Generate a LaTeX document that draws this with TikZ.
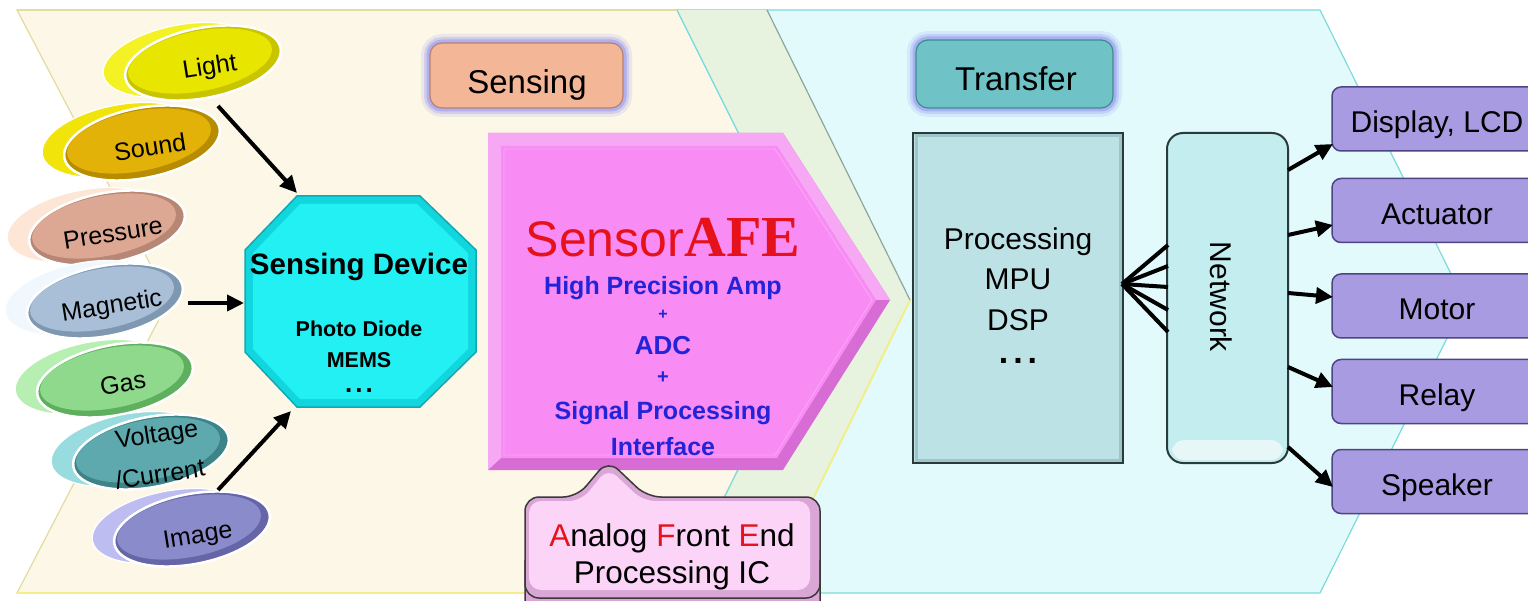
\documentclass[tikz,border=0pt]{standalone}
\usepackage{fontspec}
\setmainfont{Liberation Sans}
\newfontfamily\afeserif{Liberation Serif}
\usetikzlibrary{arrows.meta,shapes.geometric,calc}
\definecolor{cream}{HTML}{FCF7E6}
\definecolor{creamedge}{HTML}{E2DCA0}
\definecolor{cyanbg}{HTML}{E2FAFC}
\definecolor{cyanedge}{HTML}{7FDADA}
\definecolor{overlapc}{HTML}{E7F3DF}
\definecolor{grayline}{HTML}{8FA59A}
\definecolor{yellowline}{HTML}{F2EE8A}
\definecolor{glow}{HTML}{8A8AF2}
\definecolor{sensingfill}{HTML}{F3B697}
\definecolor{sensingedge}{HTML}{B88270}
\definecolor{transferfill}{HTML}{6FC3C6}
\definecolor{transferedge}{HTML}{3F8C8F}
\definecolor{afedark}{HTML}{D66CD4}
\definecolor{afelight}{HTML}{F7A8F4}
\definecolor{afefill}{HTML}{F98CF4}
\definecolor{afered}{HTML}{E5121B}
\definecolor{afeblue}{HTML}{2323D8}
\definecolor{callfill}{HTML}{FBD4F7}
\definecolor{callshade}{HTML}{D9A6D6}
\definecolor{calledge}{HTML}{3A3A3A}
\definecolor{sdouter}{HTML}{12D6DE}
\definecolor{sdinner}{HTML}{22F0F2}
\definecolor{sdedge}{HTML}{13A9B0}
\definecolor{procfill}{HTML}{BDE2E5}
\definecolor{procin}{HTML}{9CC6C9}
\definecolor{procedge}{HTML}{2A3A3A}
\definecolor{netfill}{HTML}{C4EDEF}
\definecolor{outfill}{HTML}{A99BE1}
\definecolor{outedge}{HTML}{4E4483}
% ellipse colours
\definecolor{lightB}{HTML}{F4F224}\definecolor{lightR}{HTML}{C9C400}\definecolor{lightF}{HTML}{E8E500}
\definecolor{soundB}{HTML}{F1E40A}\definecolor{soundR}{HTML}{B88C00}\definecolor{soundF}{HTML}{E3B208}
\definecolor{presB}{HTML}{FDE6D6}\definecolor{presR}{HTML}{B88674}\definecolor{presF}{HTML}{DDA893}
\definecolor{magB}{HTML}{F0F8FE}\definecolor{magR}{HTML}{7F98B2}\definecolor{magF}{HTML}{A9BFD7}
\definecolor{gasB}{HTML}{B7EFB2}\definecolor{gasR}{HTML}{5EAF5E}\definecolor{gasF}{HTML}{8FD98D}
\definecolor{voltB}{HTML}{98DCDF}\definecolor{voltR}{HTML}{3C8488}\definecolor{voltF}{HTML}{5EA9AE}
\definecolor{imgB}{HTML}{BDBDF2}\definecolor{imgR}{HTML}{6565A8}\definecolor{imgF}{HTML}{8A8BCB}
\newcommand\fsz[1]{\fontsize{#1}{#1}\selectfont}
\newcommand\sensorpair[6]{%
  \node[ellb, fill=#4] (#1b) at (#2-22,#3-3) {};
  \node[ellf, fill=#5] (#1) at (#2,#3) {};
  \node[elli, fill=#6] (#1i) at (#2-3,#3-2) {};
}
\tikzset{
  ellb/.style={ellipse, minimum width=158pt, minimum height=70pt, inner sep=0pt, rotate=11, draw=white, line width=1.2pt},
  ellf/.style={ellipse, minimum width=158pt, minimum height=70pt, inner sep=0pt, rotate=11, draw=white, line width=2.5pt},
  elli/.style={ellipse, minimum width=146pt, minimum height=60pt, inner sep=0pt, rotate=11},
  ltxt/.style={font=\fsz{25}, inner sep=0pt, rotate=9},
  arr/.style={line width=4pt, -{Triangle[length=17pt,width=16pt]}},
  fan/.style={line width=4pt},
  outbox/.style={draw=outedge, line width=1.5pt, fill=outfill, rounded corners=9pt, minimum width=210pt, minimum height=64pt, inner sep=0pt},
  outtxt/.style={font=\fsz{30}, anchor=base, inner sep=0pt},
  bluetxt/.style={font=\bfseries\fsz{25}, text=afeblue, anchor=base, inner sep=0pt},
  sdtxt/.style={font=\bfseries\fsz{21.5}, anchor=base, inner sep=0pt},
  proctxt/.style={font=\fsz{30}, anchor=base, inner sep=0pt},
  calltxt/.style={font=\fsz{31.5}, anchor=base, inner sep=0pt},
}
\begin{document}
\begin{tikzpicture}[x=1pt,y=-1pt]
\useasboundingbox (0,0) rectangle (1528,601);
\fill[white] (0,0) rectangle (1528,601);
% ---- background chevrons
\filldraw[fill=cream, draw=creamedge, line width=1.2pt]
  (17,10) -- (767,10) -- (910,300) -- (767,593) -- (17,593) -- (169,300) -- cycle;
\filldraw[fill=cyanbg, draw=cyanedge, line width=1.2pt]
  (677,10) -- (1320,10) -- (1465,302) -- (1320,593) -- (677,593) -- (822,300) -- cycle;
\fill[overlapc] (677,10) -- (767,10) -- (910,300) -- (767,593) -- (677,593) -- (822,300) -- cycle;
\draw[grayline, line width=1.2pt] (767,10) -- (910,300);
\draw[yellowline, line width=2pt] (910,300) -- (767,593);
\draw[cyanedge, line width=1.2pt] (677,10) -- (822,300) -- (677,593);
\draw[creamedge, line width=1.5pt] (17,10) -- (677,10);
\draw[yellowline, line width=2pt] (17,593) -- (677,593);
% ---- Sensing / Transfer headers
\foreach \w/\o in {18/0.15, 12/0.25, 7/0.45}{
  \draw[glow, opacity=\o, line width=\w pt, rounded corners=12pt] (430,43) rectangle (623,108);
  \draw[glow, opacity=\o, line width=\w pt, rounded corners=12pt] (916,40) rectangle (1113,108);
}
\node[draw=sensingedge, line width=1.2pt, fill=sensingfill, rounded corners=12pt,
      minimum width=193pt, minimum height=65pt, inner sep=0pt] (sensing) at (526.5,75.5) {};
\node[font=\fsz{33}, inner sep=0pt, anchor=base] (sensingt) at (527,94) {Sensing};
\node[draw=transferedge, line width=1.2pt, fill=transferfill, rounded corners=12pt,
      minimum width=197pt, minimum height=68pt, inner sep=0pt] (transfer) at (1014.5,74) {};
\node[font=\fsz{33}, inner sep=0pt, anchor=base] (transfert) at (1016,91) {Transfer};
% ---- SensorAFE pentagon
\fill[afedark] (488,133) -- (783,133) -- (890,300) -- (783,470) -- (488,470) -- cycle;
\fill[afelight] (488,133) -- (783,133) -- (890,300) -- (876,300) -- (777,146) -- (501,146) -- (501,458) -- (488,470) -- cycle;
\fill[afefill] (501,146) -- (777,146) -- (876,300) -- (777,458) -- (501,458) -- cycle;
\draw[afelight, line width=0.8pt] (504,149) -- (775,149) -- (872,300) -- (775,455) -- (504,455) -- cycle;
\node[inner sep=0pt, anchor=base, text=afered] (afetitle) at (663,257)
  {{\fsz{50}Sensor}{\afeserif\bfseries\fsz{58}AFE}};
\node[bluetxt] (amp) at (663,295) {High Precision Amp};
\node[bluetxt, font=\bfseries\fsz{16}] (plus1) at (663,320) {+};
\node[bluetxt, font=\bfseries\fsz{26}] (adc) at (663,355) {ADC};
\node[bluetxt, font=\bfseries\fsz{20}] (plus2) at (663,384) {+};
\node[bluetxt] (sigproc) at (663,419) {Signal Processing};
\node[bluetxt] (iface) at (663,455) {Interface};
% ---- callout
\fill[callshade, rounded corners=14pt] (525,612) -- (525,497) -- (577,497) -- (608,460) -- (647,497) -- (820,497) -- (820,612) -- cycle;
\fill[callfill, rounded corners=12pt] (529,590) -- (529,501) -- (581,501) -- (608,468) -- (643,501) -- (810,501) -- (810,590) -- cycle;
\draw[calledge, line width=1.5pt, rounded corners=14pt] (525,612) -- (525,497) -- (577,497) -- (608,460) -- (647,497) -- (820,497) -- (820,612);
\draw[calledge, line width=1.5pt, rounded corners=14pt] (525,560) -- (525,598) -- (820,598) -- (820,560);
\node[calltxt] (callt1) at (672,546) {\textcolor{afered}{A}nalog \textcolor{afered}{F}ront \textcolor{afered}{E}nd};
\node[calltxt] (callt2) at (672,583) {Processing IC};
% ---- Sensing device octagon
\filldraw[fill=sdouter, draw=sdedge, line width=1.5pt]
  (297,196) -- (420,196) -- (476,250) -- (476,352) -- (420,407) -- (297,407) -- (245,352) -- (245,250) -- cycle;
\fill[sdinner] (300,204) -- (417,204) -- (468,253) -- (468,349) -- (417,399) -- (300,399) -- (253,349) -- (253,253) -- cycle;
\node[minimum width=231pt, minimum height=211pt, inner sep=0pt] (sd) at (360.5,301.5) {};
\node[font=\bfseries\fsz{29.5}, anchor=base, inner sep=0pt] (sdt) at (359,275) {Sensing Device};
\node[sdtxt] (sd1) at (359,337) {Photo Diode};
\node[sdtxt] (sd2) at (359,367) {MEMS};
\node[sdtxt, font=\bfseries\fsz{26}] (sd3) at (359,392) {.\hspace{3pt}.\hspace{3pt}.};
% ---- sensor ellipses
\sensorpair{light}{203}{63}{lightB}{lightR}{lightF}
\sensorpair{sound}{142}{143}{soundB}{soundR}{soundF}
\sensorpair{pres}{107}{228}{presB}{presR}{presF}
\sensorpair{mag}{105}{301}{magB}{magR}{magF}
\sensorpair{gas}{115}{380}{gasB}{gasR}{gasF}
\sensorpair{volt}{151}{452}{voltB}{voltR}{voltF}
\sensorpair{img}{192}{529}{imgB}{imgR}{imgF}
\node[ltxt] (lightt) at (210,68) {Light};
\node[ltxt] (soundt) at (150,147) {Sound};
\node[ltxt] (prest) at (113,233) {Pressure};
\node[ltxt] (magt) at (112,307) {Magnetic};
\node[ltxt] (gast) at (123,383) {Gas};
\node[ltxt] (voltt1) at (157,436) {Voltage};
\node[ltxt] (voltt2) at (160,474) {/Current};
\node[ltxt] (imgt) at (198,537) {Image};
% ---- arrows into sensing device
\coordinate (a1s) at (218,106); \coordinate (a1e) at (297,193);
\coordinate (a2s) at (188,303); \coordinate (a2e) at (244,303);
\coordinate (a3s) at (218,490); \coordinate (a3e) at (291,411);
\draw[arr] (a1s) -- (a1e);
\draw[arr] (a2s) -- (a2e);
\draw[arr] (a3s) -- (a3e);
% ---- processing box
\node[draw=procedge, line width=2pt, fill=procfill, minimum width=210pt, minimum height=330pt, inner sep=0pt] (proc) at (1018,298) {};
\draw[procin, line width=3pt] (916,136) rectangle (1120,460);
\node[proctxt] (proct1) at (1018,250) {Processing};
\node[proctxt] (proct2) at (1018,290) {MPU};
\node[proctxt] (proct3) at (1018,331) {DSP};
\node[proctxt, font=\bfseries\fsz{34}] (proct4) at (1018,363) {.\hspace{5pt}.\hspace{5pt}.};
% ---- network
\node[draw=procedge, line width=2pt, fill=netfill, rounded corners=16pt, minimum width=121pt, minimum height=330pt, inner sep=0pt] (net) at (1227.5,298) {};
\fill[white, opacity=0.6, rounded corners=12pt] (1172,440) rectangle (1283,460);
\node[font=\fsz{30}, rotate=-90, inner sep=0pt] (nett) at (1221,297) {Network};
% fan
\coordinate (fo) at (1122,284);
\foreach \yy [count=\i] in {245,266,287,310,332}{
  \coordinate (f\i) at (1168,\yy);
  \draw[fan] (fo) -- (f\i);
}
% ---- outputs
\node[outbox] (disp) at (1437,119) {};
\node[outbox] (act) at (1437,210.5) {};
\node[outbox] (mot) at (1437,306) {};
\node[outbox] (rel) at (1437,391.5) {};
\node[outbox] (spk) at (1437,481.5) {};
\node[outtxt] (dispt) at (1437,133) {Display, LCD};
\node[outtxt] (actt) at (1437,225) {Actuator};
\node[outtxt] (mott) at (1437,320) {Motor};
\node[outtxt] (relt) at (1437,405) {Relay};
\node[outtxt] (spkt) at (1437,495) {Speaker};
\coordinate (n1) at (1288,170); \coordinate (d1) at (1333,144);
\coordinate (n2) at (1288,235); \coordinate (d2) at (1333,225);
\coordinate (n3) at (1288,293); \coordinate (d3) at (1333,297);
\coordinate (n4) at (1288,367); \coordinate (d4) at (1333,387);
\coordinate (n5) at (1288,447); \coordinate (d5) at (1333,487);
\foreach \i in {1,...,5}{\draw[arr] (n\i) -- (d\i);}
\end{tikzpicture}
\end{document}
